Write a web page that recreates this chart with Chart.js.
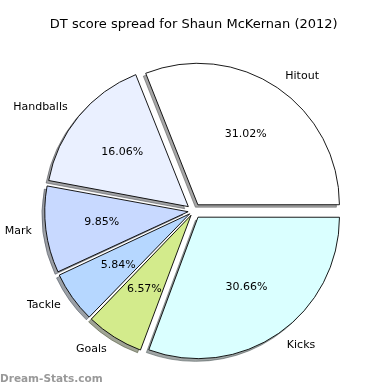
<!DOCTYPE html>
<html>
<head>
<meta charset="utf-8">
<script src="https://cdn.jsdelivr.net/npm/chart.js@4/dist/chart.umd.min.js"></script>
<style>
  html, body { margin: 0; padding: 0; background: #fff; }
  #wrap { width: 390px; height: 390px; }
</style>
</head>
<body>
<div id="wrap"><canvas id="scorePie" width="390" height="390"></canvas></div>
<script>
// DT score share per stat, listed counter-clockwise from 3 o'clock
const categories = ["Hitout", "Handballs", "Mark", "Tackle", "Goals", "Kicks"];
const scoreShare = [31.02, 16.06, 9.85, 5.84, 6.57, 30.66];
const sliceColors = ["#ffffff", "#eaf0ff", "#c8d9ff", "#b6d7ff", "#d3eb8c", "#daffff"];

const EXPLODE = 8;        // px each wedge is pushed out
const SHADOW_SHIFT = 2.8; // px, shadow drawn down and to the left

// Chart.js goes clockwise, so feed the slices in reverse
const labels = categories.slice().reverse();
const values = scoreShare.slice().reverse();
const colors = sliceColors.slice().reverse();

// ArcElement divides offset by 4 and adds a bit more for narrow slices;
// undo that so every wedge moves the same distance
function arcOffset(ctx) {
    const total = values.reduce((a, b) => a + b, 0);
    const v = values[ctx.dataIndex] || 0;
    const circ = v / total * Math.PI * 2;
    const fix = 1 - Math.sin(Math.min(Math.PI, circ));
    return 4 * EXPLODE / (1 + fix);
}

function explodedCenter(arc) {
    const p = arc.getProps(["x", "y", "startAngle", "endAngle", "outerRadius", "circumference"], true);
    const mid = (p.startAngle + p.endAngle) / 2;
    const off = (arc.options.offset || 0) / 4;
    const fix = 1 - Math.sin(Math.min(Math.PI, p.circumference || 0));
    const shift = off * (1 + fix);
    return {
        x: p.x + Math.cos(mid) * shift,
        y: p.y + Math.sin(mid) * shift,
        mid: mid,
        start: p.startAngle,
        end: p.endAngle,
        r: p.outerRadius
    };
}

function shadowColor(hex) {
    const n = parseInt(hex.slice(1), 16);
    const r = Math.round(((n >> 16) & 255) * 0.3);
    const g = Math.round(((n >> 8) & 255) * 0.3);
    const b = Math.round((n & 255) * 0.3);
    return "rgba(" + r + "," + g + "," + b + ",0.5)";
}

// shadows go under all the wedges
const wedgeShadows = {
    id: "wedgeShadows",
    beforeDatasetsDraw(chart) {
        const ctx = chart.ctx;
        const meta = chart.getDatasetMeta(0);
        ctx.save();
        meta.data.forEach((arc, i) => {
            const c = explodedCenter(arc);
            const sx = c.x - SHADOW_SHIFT;
            const sy = c.y + SHADOW_SHIFT;
            ctx.beginPath();
            ctx.moveTo(sx, sy);
            ctx.arc(sx, sy, c.r, c.start, c.end);
            ctx.closePath();
            ctx.fillStyle = shadowColor(colors[i]);
            ctx.strokeStyle = shadowColor(colors[i]);
            ctx.lineWidth = 1;
            ctx.fill();
            ctx.stroke();
        });
        ctx.restore();
    }
};

// category names outside, percentages inside
const wedgeLabels = {
    id: "wedgeLabels",
    afterDatasetsDraw(chart) {
        const ctx = chart.ctx;
        const meta = chart.getDatasetMeta(0);
        ctx.save();
        ctx.fillStyle = "#000";
        ctx.textBaseline = "middle";
        meta.data.forEach((arc, i) => {
            const c = explodedCenter(arc);
            const cos = Math.cos(c.mid), sin = Math.sin(c.mid);

            ctx.font = "11px 'DejaVu Sans'";
            ctx.textAlign = cos > 0 ? "left" : "right";
            ctx.fillText(labels[i], c.x + cos * c.r * 1.1, c.y + sin * c.r * 1.1);

            ctx.textAlign = "center";
            ctx.fillText(values[i].toFixed(2) + "%", c.x + cos * c.r * 0.6, c.y + sin * c.r * 0.6);
        });
        ctx.restore();
    }
};

const watermark = {
    id: "watermark",
    afterDraw(chart) {
        const ctx = chart.ctx;
        ctx.save();
        ctx.font = "bold 10.5px 'DejaVu Sans'";
        ctx.fillStyle = "#999999";
        ctx.textAlign = "left";
        ctx.textBaseline = "middle";
        ctx.fillText("Dream-Stats.com", 0, 379.5);
        ctx.restore();
    }
};

new Chart(document.getElementById("scorePie"), {
    type: "pie",
    data: {
        labels: labels,
        datasets: [{
            data: values,
            backgroundColor: colors,
            borderColor: "#000",
            borderWidth: 0.9,
            offset: arcOffset,
            hoverOffset: 0
        }]
    },
    options: {
        responsive: false,
        animation: false,
        events: [],
        rotation: 90,
        radius: 141,
        layout: { padding: { left: 30, right: 32.6, top: 0, bottom: 10 } },
        plugins: {
            legend: { display: false },
            tooltip: { enabled: false },
            title: {
                display: true,
                text: "DT score spread for Shaun McKernan (2012)",
                color: "#000",
                font: { family: "'DejaVu Sans'", size: 13, weight: "normal" },
                padding: { top: 17.2, bottom: 9.2 }
            }
        }
    },
    plugins: [wedgeShadows, wedgeLabels, watermark]
});
</script>
</body>
</html>
